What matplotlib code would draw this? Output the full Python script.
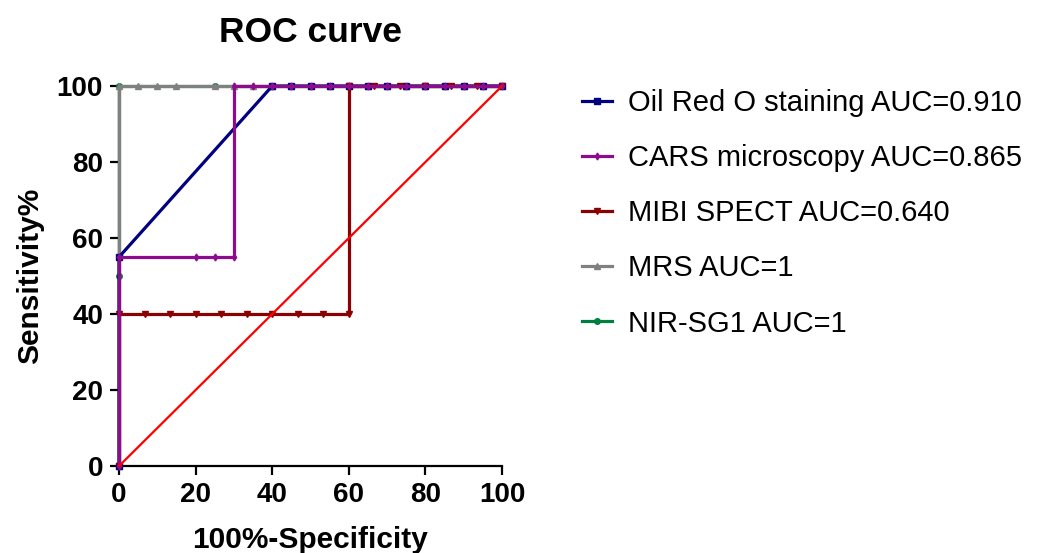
import matplotlib
matplotlib.use('Agg')
import matplotlib.pyplot as plt

plt.rcParams['font.family'] = ['Liberation Sans', 'DejaVu Sans']

# ROC points: x = 100%-Specificity, y = Sensitivity%
oil_x = [0, 0, 40, 45, 50, 55, 60, 65, 70, 75, 80, 85, 90, 95, 100]
oil_y = [0, 55, 100, 100, 100, 100, 100, 100, 100, 100, 100, 100, 100, 100, 100]

cars_x = [0, 0, 20, 25, 30, 30, 35, 40, 45, 50, 55, 60, 65, 70, 75, 80, 85, 90, 95, 100]
cars_y = [0, 55, 55, 55, 55, 100, 100, 100, 100, 100, 100, 100, 100, 100, 100, 100, 100, 100, 100, 100]

mibi_x = [0, 0, 6.67, 13.33, 20, 26.67, 33.33, 40, 46.67, 53.33, 60,
          60, 66.67, 73.33, 80, 86.67, 93.33, 100]
mibi_y = [0, 40, 40, 40, 40, 40, 40, 40, 40, 40, 40,
          100, 100, 100, 100, 100, 100, 100]

mrs_x = [0, 0, 5, 10, 15, 25, 30, 35, 40, 45, 50, 55, 60, 65, 70, 75, 80, 85, 90, 95, 100]
mrs_y = [0, 100, 100, 100, 100, 100, 100, 100, 100, 100, 100, 100, 100, 100, 100, 100, 100, 100, 100, 100, 100]

nir_x = [0, 0, 0, 25, 50, 75, 100]
nir_y = [0, 50, 100, 100, 100, 100, 100]

ref_x = [0, 100]
ref_y = [0, 100]

labels = ['Oil Red O staining AUC=0.910', 'CARS microscopy AUC=0.865',
          'MIBI SPECT AUC=0.640', 'MRS AUC=1', 'NIR-SG1 AUC=1']

fig = plt.figure(figsize=(10.59, 5.53), dpi=100)
ax = fig.add_axes([0.1124, 0.1573, 0.3617, 0.6872])

lw = 2.3
l_nir, = ax.plot(nir_x, nir_y, '-o', color='#008040', lw=lw, ms=4, clip_on=False, zorder=2)
l_mrs, = ax.plot(mrs_x, mrs_y, '-^', color='#808080', lw=lw, ms=4, clip_on=False, zorder=3)
l_oil, = ax.plot(oil_x, oil_y, '-s', color='#000080', lw=lw, ms=4, clip_on=False, zorder=3)
l_mibi, = ax.plot(mibi_x, mibi_y, '-v', color='#8B0000', lw=lw, ms=4.5, clip_on=False, zorder=3)
l_cars, = ax.plot(cars_x, cars_y, '-d', color='#8E0B8E', lw=lw, ms=3.5, clip_on=False, zorder=4)
ax.plot(ref_x, ref_y, '-', color='#FF0000', lw=1.6, clip_on=False, zorder=5)

ax.set_xlim(0, 100)
ax.set_ylim(0, 100)
ax.set_xticks([0, 20, 40, 60, 80, 100])
ax.set_yticks([0, 20, 40, 60, 80, 100])
for s in ['top', 'right']:
    ax.spines[s].set_visible(False)
for s in ['left', 'bottom']:
    ax.spines[s].set_linewidth(1.6)
ax.tick_params(width=1.6, length=6.5, labelsize=20, pad=5)
for t in ax.get_xticklabels() + ax.get_yticklabels():
    t.set_fontweight('bold')

ax.set_xlabel('100%-Specificity', fontsize=21.5, fontweight='bold', labelpad=13)
ax.set_ylabel('Sensitivity%', fontsize=21.5, fontweight='bold', labelpad=9)
ax.set_title('ROC curve', fontsize=25.5, fontweight='bold', pad=32)

ax.legend([l_oil, l_cars, l_mibi, l_mrs, l_nir], labels,
          loc='upper left', bbox_to_anchor=(0.5496, 0.839), bbox_transform=fig.transFigure,
          frameon=False, fontsize=21, handlelength=1.03, handletextpad=0.55,
          labelspacing=0.93, borderpad=0, borderaxespad=0)

fig.savefig('out.png', dpi=100)
